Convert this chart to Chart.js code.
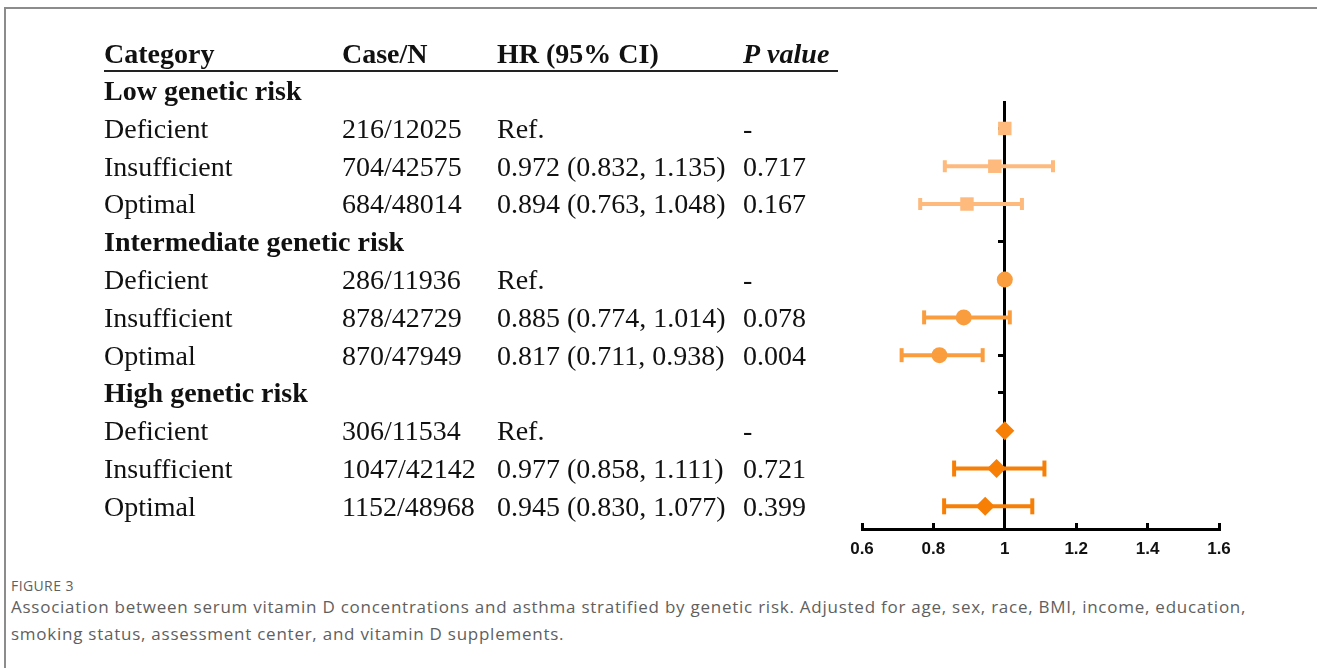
<!DOCTYPE html>
<html>
<head>
<meta charset="utf-8">
<script src="https://cdn.jsdelivr.net/npm/chart.js@4.4.1/dist/chart.umd.min.js"></script>
<style>
  html, body { margin: 0; padding: 0; background: #fff; }
  body { width: 1317px; height: 668px; position: relative; overflow: hidden; }
  #frame { position: absolute; left: 4px; top: 7px; right: -10px; bottom: -10px;
           border-top: 2px solid #8c8c8c; border-left: 2px solid #8c8c8c; }
  #wrap { position: absolute; left: 0; top: 0; width: 1317px; height: 560px; }
  #caption { position: absolute; left: 11px; top: 576px; width: 1300px; white-space: nowrap;
             font-family: "Open Sans", "Noto Sans", sans-serif; color: #5f5f5f; }
  #caption .fig { font-size: 14px; letter-spacing: 0.4px; margin-bottom: -2px; }
  #caption .txt { font-size: 17px; line-height: 27px; letter-spacing: 0.75px; }
</style>
</head>
<body>
<div id="frame"></div>
<div id="wrap"><canvas id="forest" width="1317" height="560"></canvas></div>
<div id="caption">
  <div class="fig">FIGURE 3</div>
  <div class="txt">Association between serum vitamin D concentrations and asthma stratified by genetic risk. Adjusted for age, sex, race, BMI, income, education,<br>smoking status, assessment center, and vitamin D supplements.</div>
</div>
<script>
// table data
const headers = ['Category', 'Case/N', 'HR (95% CI)', 'P value']
const groups = ['Low genetic risk', 'Intermediate genetic risk', 'High genetic risk']
const categories = ['Deficient', 'Insufficient', 'Optimal']
const caseN = [
    ['216/12025', '704/42575', '684/48014'],
    ['286/11936', '878/42729', '870/47949'],
    ['306/11534', '1047/42142', '1152/48968'],
]
const hr = [
    [1, 0.972, 0.894],
    [1, 0.885, 0.817],
    [1, 0.977, 0.945],
]
const lower = [
    [null, 0.832, 0.763],
    [null, 0.774, 0.711],
    [null, 0.858, 0.830],
]
const upper = [
    [null, 1.135, 1.048],
    [null, 1.014, 0.938],
    [null, 1.111, 1.077],
]
const pValues = [
    ['-', '0.717', '0.167'],
    ['-', '0.078', '0.004'],
    ['-', '0.721', '0.399'],
]
const xTicks = [0.6, 0.8, 1, 1.2, 1.4, 1.6]

// look per group
const colors = ['#fdba7c', '#f99d3e', '#f77f05']
const markers = ['rect', 'circle', 'rectRot']
const markerSize = [9.5, 8, 9.5]
const capSize = [6, 7, 8]

const colX = [104, 342, 497, 743]
const serif = '"Liberation Serif", "Times New Roman", serif'

// row index on the y axis: group heading = 4g, rows after it
const rowOf = (g, i) => 4 * g + 1 + i
const yRows = []
groups.forEach((grp, g) => categories.forEach((c, i) => yRows.push(rowOf(g, i))))

const datasets = []
groups.forEach((grp, g) => {
    categories.forEach((c, i) => {
        if (lower[g][i] === null) return
        datasets.push({
            type: 'line',
            data: [{ x: lower[g][i], y: rowOf(g, i) }, { x: upper[g][i], y: rowOf(g, i) }],
            borderColor: colors[g],
            borderWidth: 4,
            pointRadius: 0,
        })
    })
    const caps = []
    categories.forEach((c, i) => {
        if (lower[g][i] === null) return
        caps.push({ x: lower[g][i], y: rowOf(g, i) }, { x: upper[g][i], y: rowOf(g, i) })
    })
    datasets.push({
        type: 'scatter',
        data: caps,
        pointStyle: 'line',
        rotation: 90,
        pointRadius: capSize[g],
        borderColor: colors[g],
        pointBorderWidth: 4,
    })
    datasets.push({
        type: 'scatter',
        label: grp,
        data: categories.map((c, i) => ({ x: hr[g][i], y: rowOf(g, i) })),
        pointStyle: markers[g],
        pointRadius: markerSize[g],
        backgroundColor: colors[g],
        borderColor: colors[g],
        pointBorderWidth: 0,
    })
})

const tablePlugin = {
    id: 'tablePlugin',
    afterDraw(chart) {
        const ctx = chart.ctx
        const ys = chart.scales.y
        const at = (v) => ys.getPixelForValue(v) + 2
        ctx.save()
        ctx.fillStyle = '#111'
        ctx.textBaseline = 'middle'
        headers.forEach((h, k) => {
            ctx.font = (k === 3 ? 'italic bold ' : 'bold ') + '28px ' + serif
            ctx.fillText(h, colX[k], at(-1) + 1)
        })
        const ly = Math.round(ys.getPixelForValue(-0.5)) - 1
        ctx.strokeStyle = '#222'
        ctx.lineWidth = 2
        ctx.beginPath()
        ctx.moveTo(colX[0], ly)
        ctx.lineTo(838, ly)
        ctx.stroke()
        groups.forEach((grp, g) => {
            ctx.font = 'bold 28px ' + serif
            ctx.fillText(grp, colX[0], at(4 * g))
            ctx.font = '28px ' + serif
            categories.forEach((c, i) => {
                const py = at(rowOf(g, i))
                const hrText = lower[g][i] === null ? 'Ref.' :
                    hr[g][i].toFixed(3) + ' (' + lower[g][i].toFixed(3) + ', ' + upper[g][i].toFixed(3) + ')'
                ctx.fillText(c, colX[0], py)
                ctx.fillText(caseN[g][i], colX[1], py)
                ctx.fillText(hrText, colX[2], py)
                ctx.fillText(pValues[g][i], colX[3], py)
            })
        })
        ctx.restore()
    }
}

const forest = new Chart(
    document.getElementById('forest'),
    {
        data: { datasets: datasets },
        options: {
            responsive: false,
            animation: false,
            layout: { padding: { left: 862, right: 98, top: 102, bottom: 1 } },
            plugins: { legend: { display: false }, tooltip: { enabled: false } },
            scales: {
                x: {
                    type: 'linear',
                    position: 'bottom',
                    min: 0.6,
                    max: 1.6,
                    afterBuildTicks: (s) => { s.ticks = xTicks.map(v => ({ value: v })) },
                    afterFit: (s) => { s.height = 30 },
                    border: { color: '#000', width: 3 },
                    grid: { drawOnChartArea: false, color: '#000', lineWidth: 3, tickLength: -6 },
                    ticks: {
                        padding: 16,
                        color: '#111',
                        font: { family: '"Liberation Sans", Arial, sans-serif', size: 17, weight: 'bold' },
                        callback: (v) => String(v),
                    },
                },
                y: {
                    type: 'linear',
                    reverse: true,
                    min: 0.3,
                    max: 11.6,
                    position: { x: 1 },
                    afterBuildTicks: (s) => { s.ticks = yRows.concat([4, 8]).map(v => ({ value: v })) },
                    border: { color: '#000', width: 3 },
                    grid: { drawOnChartArea: false, color: '#000', lineWidth: 3, tickLength: 5 },
                    ticks: { display: false },
                },
            },
        },
        plugins: [tablePlugin],
    }
)
</script>
</body>
</html>
